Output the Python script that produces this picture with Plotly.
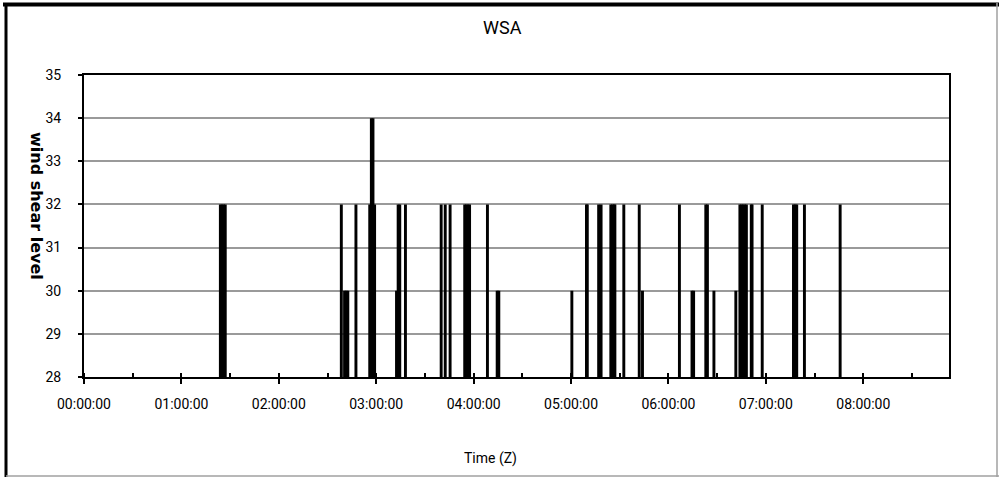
import plotly.graph_objects as go

# ---- data ----
times = [
    "01:24:00", "01:25:00", "01:26:00", "01:27:00",
    "02:38:30", "02:40:30", "02:41:30", "02:42:30",
    "02:47:30", "02:56:00", "02:57:00", "02:58:00", "02:59:00",
    "03:12:30", "03:13:30", "03:14:30", "03:18:00",
    "03:40:00", "03:42:30", "03:45:30",
    "03:54:30", "03:55:30", "03:56:30", "03:57:30",
    "04:08:30", "04:14:30", "04:15:30",
    "05:00:30", "05:09:30", "05:10:00", "05:17:00", "05:18:30",
    "05:24:30", "05:25:30", "05:26:30", "05:27:00",
    "05:32:30", "05:42:00", "05:44:00",
    "06:06:45", "06:14:30", "06:15:30", "06:23:00", "06:24:00",
    "06:28:00", "06:41:30",
    "06:44:00", "06:45:00", "06:46:00", "06:47:00", "06:48:00",
    "06:51:00", "06:51:30", "06:57:45",
    "07:17:00", "07:18:00", "07:19:00", "07:23:45", "07:45:45",
]
levels = [
    32, 32, 32, 32,
    32, 30, 30, 30,
    32, 32, 34, 34, 32,
    30, 32, 32, 32,
    32, 32, 32,
    32, 32, 32, 32,
    32, 30, 30,
    30, 32, 32, 32, 32,
    32, 32, 32, 32,
    32, 32, 30,
    32, 30, 30, 32, 32,
    30, 30,
    32, 32, 32, 32, 32,
    32, 32, 32,
    32, 32, 32, 32, 32,
]
tick_labels = ["00:00:00", "01:00:00", "02:00:00", "03:00:00", "04:00:00",
               "05:00:00", "06:00:00", "07:00:00", "08:00:00"]
y_ticks = [28, 29, 30, 31, 32, 33, 34, 35]

DAY = "2000-01-01 "
x_vals = [DAY + t for t in times]
tick_vals = [DAY + t for t in tick_labels]

W, H = 999, 477
ML, MR, MT, MB = 84, 50, 75, 100
fam = "Roboto, sans-serif"

fig = go.Figure(go.Bar(
    x=x_vals, y=levels, width=108000,
    marker=dict(color="black", line=dict(width=0)),
))

fig.update_layout(
    width=W, height=H,
    margin=dict(l=ML, r=MR, t=MT, b=MB),
    paper_bgcolor="white", plot_bgcolor="white",
    showlegend=False,
    font=dict(family=fam, size=14, color="black"),
)

fig.update_xaxes(
    type="date",
    range=[DAY + "00:00:00", DAY + "08:52:48"],
    tickvals=tick_vals, ticktext=tick_labels,
    ticks="outside", ticklen=5, tickwidth=2, tickcolor="black",
    showline=True, linecolor="black", linewidth=2, mirror=True,
    showgrid=False, zeroline=False,
    tickfont=dict(family=fam, size=14, color="black"),
    ticklabelstandoff=8,
    minor=dict(dtick=1800000, tick0=DAY + "00:00:00", ticks="inside",
               ticklen=4, tickwidth=1.5, tickcolor="black", showgrid=False),
)
fig.update_yaxes(
    range=[28, 35], tickvals=y_ticks,
    ticks="outside", ticklen=4, tickwidth=1.5, tickcolor="black",
    showline=True, linecolor="black", linewidth=2, mirror=True,
    showgrid=True, gridcolor="#9a9a9a", gridwidth=1.5,
    zeroline=False,
    tickfont=dict(family=fam, size=14, color="black"),
    ticklabelstandoff=14,
)

pw = W - ML - MR
ph = H - MT - MB
def px(x):
    return (x - ML) / pw
def py(y):
    return (H - MB - y) / ph

fig.add_annotation(text="WSA", xref="paper", yref="paper",
                   x=px(502), y=py(28), showarrow=False,
                   xanchor="center", yanchor="middle",
                   font=dict(family=fam, size=18, color="black"))
fig.add_annotation(text="Time (Z)", xref="paper", yref="paper",
                   x=px(490), y=py(458), showarrow=False,
                   xanchor="center", yanchor="middle",
                   font=dict(family=fam, size=14, color="black"))
fig.add_annotation(text="<b>wind shear level</b>", xref="paper", yref="paper",
                   x=px(37), y=py(206), showarrow=False, textangle=90,
                   xanchor="center", yanchor="middle",
                   font=dict(family="DejaVu Sans, sans-serif", size=16, color="black"))

# chart-area frame
fig.add_shape(type="line", xref="paper", yref="paper",
              x0=px(3), x1=px(999), y0=py(4.5), y1=py(4.5),
              line=dict(color="black", width=4))
fig.add_shape(type="line", xref="paper", yref="paper",
              x0=px(6), x1=px(6), y0=py(3), y1=py(477),
              line=dict(color="black", width=3))
fig.add_shape(type="line", xref="paper", yref="paper",
              x0=px(6), x1=px(999), y0=py(476), y1=py(476),
              line=dict(color="#a0a0a0", width=1.5))
fig.add_shape(type="line", xref="paper", yref="paper",
              x0=px(997), x1=px(997), y0=py(3), y1=py(477),
              line=dict(color="#a0a0a0", width=1.5))

fig.write_html("out.html")
